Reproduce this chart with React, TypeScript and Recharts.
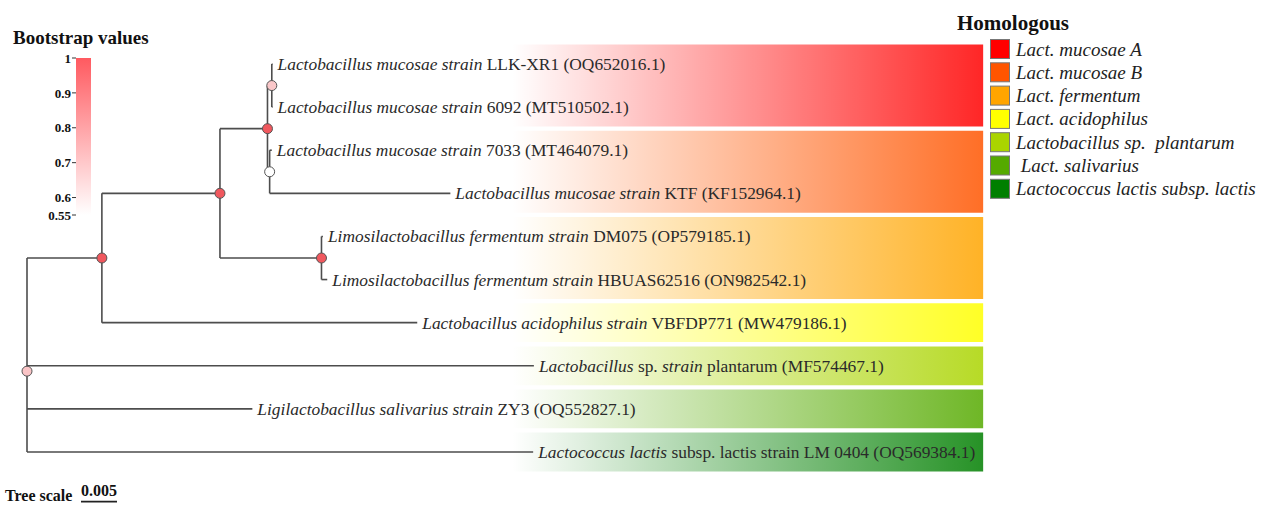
import React from 'react'
import {
  ComposedChart, BarChart, Bar, Scatter, XAxis, YAxis, ReferenceLine, ReferenceArea,
} from 'recharts'

// leaf labels, top to bottom; each part is [text, italic]
const leafLabels: [string, boolean][][] = [
  [['Lactobacillus mucosae strain', true], [' LLK-XR1 (OQ652016.1)', false]],
  [['Lactobacillus mucosae strain', true], [' 6092 (MT510502.1)', false]],
  [['Lactobacillus mucosae strain', true], [' 7033 (MT464079.1)', false]],
  [['Lactobacillus mucosae strain', true], [' KTF (KF152964.1)', false]],
  [['Limosilactobacillus fermentum strain', true], [' DM075 (OP579185.1)', false]],
  [['Limosilactobacillus fermentum strain', true], [' HBUAS62516 (ON982542.1)', false]],
  [['Lactobacillus acidophilus strain', true], [' VBFDP771 (MW479186.1)', false]],
  [['Lactobacillus', true], [' sp. ', false], ['strain', true], [' plantarum (MF574467.1)', false]],
  [['Ligilactobacillus salivarius strain', true], [' ZY3 (OQ552827.1)', false]],
  [['Lactococcus lactis', true], [' subsp. lactis strain LM 0404 (OQ569384.1)', false]],
]

// distance from root (substitutions per site)
const leafDepths = [0.0341, 0.0341, 0.0340, 0.0588, 0.0411, 0.0417, 0.0542, 0.0704, 0.0313, 0.0703]

// internal nodes
const nodeIds = ['root', 'n1', 'n2', 'n3', 'n4', 'n5', 'n6']
const nodeDepths = [0, 0.0104, 0.0268, 0.0334, 0.0340, 0.0337, 0.0409]
const nodeSupport = [0.71, 1, 1, 1, 0.7, 0.55, 1]
const nodeChildren = [
  ['n1', 'L7', 'L8', 'L9'],
  ['n2', 'L6'],
  ['n3', 'n6'],
  ['n4', 'n5'],
  ['L0', 'L1'],
  ['L2', 'L3'],
  ['L4', 'L5'],
]

// colour strips / legend
const groupNames = ['Lact. mucosae A', 'Lact. mucosae B', 'Lact. fermentum', 'Lact. acidophilus',
  'Lactobacillus sp.  plantarum', ' Lact. salivarius', 'Lactococcus lactis subsp. lactis']
const groupColors = ['#ff0000', '#ff5500', '#ffa500', '#ffff00', '#aad400', '#55aa00', '#007f00']
const groupFirstLeaf = [0, 2, 4, 6, 7, 8, 9]
const groupLastLeaf = [1, 3, 5, 6, 7, 8, 9]

const bootTicks = [0.55, 0.6, 0.7, 0.8, 0.9, 1]
const bootRange = [{ name: 'support', range: [0.55, 1] }]

const treeScale = 0.005
const stripEnd = 0.1328

const SERIF = "'Liberation Serif', 'Times New Roman', serif"
const BRANCH = '#4d4d4d'

// ---- layout -------------------------------------------------------------
const nodeIndex = (id: string) => nodeIds.indexOf(id)
const xOf = (id: string): number =>
  id.startsWith('L') ? leafDepths[Number(id.slice(1))] : nodeDepths[nodeIndex(id)]
const yOf = (id: string): number => {
  if (id.startsWith('L')) return Number(id.slice(1))
  const kids = nodeChildren[nodeIndex(id)]
  return kids.reduce((s, k) => s + yOf(k), 0) / kids.length
}

const segments: { x1: number; y1: number; x2: number; y2: number }[] = []
nodeIds.forEach((id, i) => {
  const x = nodeDepths[i]
  const ys = nodeChildren[i].map(yOf)
  segments.push({ x1: x, y1: Math.min(...ys), x2: x, y2: Math.max(...ys) })
  nodeChildren[i].forEach((k) => segments.push({ x1: x, y1: yOf(k), x2: xOf(k), y2: yOf(k) }))
})

const nodePoints = nodeIds.map((id, i) => ({ x: nodeDepths[i], y: yOf(id), support: nodeSupport[i] }))
const leafPoints = leafLabels.map((_, i) => ({ x: leafDepths[i], y: i, idx: i }))
const stripStart = Math.max(...leafDepths) - 0.003

const supportColor = (v: number) => {
  const t = Math.max(0, Math.min(1, (v - 0.55) / 0.45))
  const c = [240, 88, 94].map((ch) => Math.round(255 + (ch - 255) * t))
  return `rgb(${c[0]},${c[1]},${c[2]})`
}

function NodeDot(props: any) {
  const { cx, cy, payload } = props
  return <circle cx={cx} cy={cy} r={5} fill={supportColor(payload.support)} stroke="#555" strokeWidth={1} />
}

function LeafLabel(props: any) {
  const { cx, cy, payload } = props
  return (
    <text x={cx + 5} y={cy} dominantBaseline="central" fontFamily={SERIF} fontSize={17.4} fill="#2a2a2a"
      style={{ whiteSpace: 'pre' }}>
      {leafLabels[payload.idx].map(([t, it], k) => (
        <tspan key={k} fontStyle={it ? 'italic' : 'normal'}>{t}</tspan>
      ))}
    </text>
  )
}

export default function App() {
  return (
    <div style={{ position: 'absolute', left: 0, top: 0, width: 1269, height: 506, background: '#fff' }}>
      <div style={{ position: 'absolute', left: 0, top: 0 }}>
        <ComposedChart width={1269} height={506} margin={{ top: 64, right: 0, bottom: 54, left: 27 }}>
          <defs>
            {groupColors.map((c, i) => (
              <linearGradient key={i} id={`strip${i}`} x1="0" y1="0" x2="1" y2="0">
                <stop offset="0%" stopColor={c} stopOpacity={0} />
                <stop offset="100%" stopColor={c} stopOpacity={0.85} />
              </linearGradient>
            ))}
          </defs>
          <XAxis type="number" dataKey="x" domain={[0, 0.1725]} hide />
          <YAxis type="number" dataKey="y" domain={[0, 9]} reversed hide />
          {groupColors.map((_, i) => (
            <ReferenceArea key={`a${i}`} x1={stripStart} x2={stripEnd}
              y1={groupFirstLeaf[i] - 0.45} y2={groupLastLeaf[i] + 0.45}
              fill={`url(#strip${i})`} fillOpacity={1} stroke="none" ifOverflow="visible" />
          ))}
          {segments.map((s, i) => (
            <ReferenceLine key={`s${i}`} segment={[{ x: s.x1, y: s.y1 }, { x: s.x2, y: s.y2 }]}
              stroke={BRANCH} strokeWidth={1.6} ifOverflow="visible" />
          ))}
          <ReferenceLine segment={[{ x: 0.0075, y: 10.15 }, { x: 0.0075 + treeScale, y: 10.15 }]}
            stroke="#222" strokeWidth={1.6} ifOverflow="visible" />
          <Scatter data={leafPoints} shape={LeafLabel} isAnimationActive={false} />
          <Scatter data={nodePoints} shape={NodeDot} isAnimationActive={false} />
        </ComposedChart>
      </div>

      <div style={{ position: 'absolute', left: 0, top: 0 }}>
        <BarChart width={100} height={230} data={bootRange} margin={{ top: 58, right: 9, bottom: 15, left: 0 }}
          barCategoryGap={0}>
          <defs>
            <linearGradient id="bootGrad" x1="0" y1="0" x2="0" y2="1">
              <stop offset="0%" stopColor="#ff5a60" />
              <stop offset="100%" stopColor="#ffffff" />
            </linearGradient>
          </defs>
          <XAxis dataKey="name" hide />
          <YAxis type="number" domain={[0.55, 1]} ticks={bootTicks} interval={0} width={76}
            tickSize={4} tickMargin={1} axisLine={false} tickLine={{ stroke: '#333' }}
            tick={{ fontSize: 13, fontWeight: 'bold', fill: '#111', fontFamily: SERIF }} />
          <Bar dataKey="range" fill="url(#bootGrad)" isAnimationActive={false} />
        </BarChart>
      </div>

      <svg width={1269} height={506} style={{ position: 'absolute', left: 0, top: 0, pointerEvents: 'none' }}>
        <text x={13} y={37} dominantBaseline="central" fontFamily={SERIF} fontSize={19} fontWeight="bold" fill="#111">
          Bootstrap values
        </text>
        <text x={957} y={23} dominantBaseline="central" fontFamily={SERIF} fontSize={21} fontWeight="bold" fill="#111">
          Homologous
        </text>
        {groupNames.map((g, i) => (
          <g key={g}>
            <rect x={990.5} y={39.5 + 23.3 * i} width={19} height={19} fill={groupColors[i]} stroke="#777" strokeWidth={1} />
            <text x={1016} y={49 + 23.3 * i} dominantBaseline="central" fontFamily={SERIF} fontSize={19}
              fontStyle="italic" fill="#222" style={{ whiteSpace: 'pre' }}>
              {g}
            </text>
          </g>
        ))}
        <text x={5} y={495} dominantBaseline="central" fontFamily={SERIF} fontSize={16} fontWeight="bold" fill="#111">
          Tree scale
        </text>
        <text x={81} y={490} dominantBaseline="central" fontFamily={SERIF} fontSize={16} fontWeight="bold" fill="#111">
          0.005
        </text>
      </svg>
    </div>
  )
}
